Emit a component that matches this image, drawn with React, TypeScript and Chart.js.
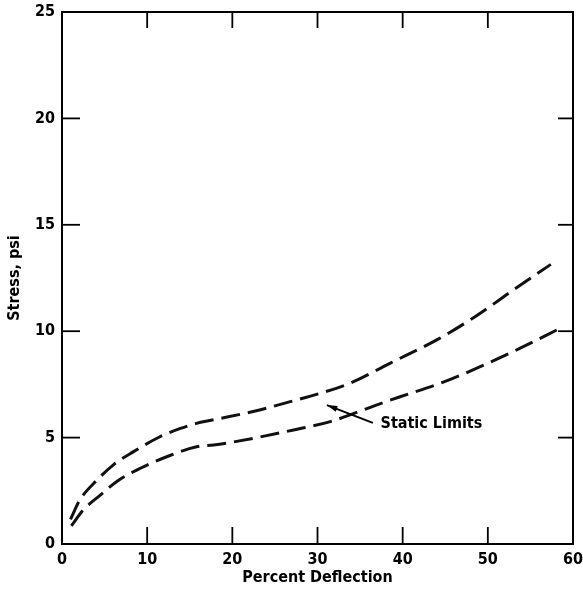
import React, { useEffect, useRef } from "react";
import { Chart, registerables } from "chart.js";

Chart.register(...registerables);

// Upper static limit curve
const upperDeflection = [1.0, 2.1, 4.1, 6.0, 8.4, 11.5, 13.9, 15.8, 18.6, 21.0, 23.2, 26.8, 30.3, 33.8, 38.5, 44.0, 48.5, 53.0, 57.4];
const upperStress = [1.16, 2.07, 3.0, 3.71, 4.34, 5.04, 5.43, 5.67, 5.9, 6.1, 6.3, 6.69, 7.08, 7.55, 8.49, 9.59, 10.68, 11.94, 13.14];

// Lower static limit curve
const lowerDeflection = [1.1, 2.5, 4.5, 6.4, 9.2, 12.3, 15.8, 17.8, 22.5, 27.2, 31.5, 36.9, 39.7, 44.4, 49.1, 53.8, 58.1];
const lowerStress = [0.85, 1.6, 2.3, 2.93, 3.56, 4.1, 4.57, 4.65, 4.97, 5.36, 5.75, 6.53, 6.92, 7.55, 8.33, 9.2, 10.06];

// Axis ticks
const xTicks = [0, 10, 20, 30, 40, 50, 60];
const yTicks = [0, 5, 10, 15, 20, 25];

// Annotation (data coordinates)
const annotationText = "Static Limits";
const arrowTail = { x: 36.5, y: 5.69 };
const arrowTip = { x: 31.1, y: 6.53 };
const labelAnchor = { x: 37.4, y: 5.64 };

const FONT = "'DejaVu Sans Condensed', 'DejaVu Sans', sans-serif";
const WEIGHT = "bold condensed";

const toPoints = (xs: number[], ys: number[]) => xs.map((x, i) => ({ x, y: ys[i] }));

const framePlugin = {
  id: "frameTicks",
  afterDraw(chart: any) {
    const ctx = chart.ctx;
    const xs = chart.scales.x;
    const ys = chart.scales.y;
    const { left, right, top, bottom } = chart.chartArea;
    ctx.save();
    ctx.strokeStyle = "#000";
    ctx.lineWidth = 1.8;
    const line = (x1: number, y1: number, x2: number, y2: number) => {
      ctx.beginPath();
      ctx.moveTo(x1, y1);
      ctx.lineTo(x2, y2);
      ctx.stroke();
    };
    xTicks.forEach((v) => {
      if (v <= xTicks[0] || v >= xTicks[xTicks.length - 1]) return;
      const px = xs.getPixelForValue(v);
      line(px, bottom, px, bottom - 17);
      line(px, top, px, top + 16);
    });
    yTicks.forEach((v) => {
      if (v <= yTicks[0] || v >= yTicks[yTicks.length - 1]) return;
      const py = ys.getPixelForValue(v);
      line(left, py, left + 18, py);
      line(right, py, right - 15, py);
    });

    // arrow
    const tx = xs.getPixelForValue(arrowTail.x);
    const ty = ys.getPixelForValue(arrowTail.y);
    const hx = xs.getPixelForValue(arrowTip.x);
    const hy = ys.getPixelForValue(arrowTip.y);
    ctx.lineWidth = 1.8;
    line(tx, ty, hx, hy);
    const ang = Math.atan2(hy - ty, hx - tx);
    const len = 11;
    const wid = 0.28;
    ctx.fillStyle = "#000";
    ctx.beginPath();
    ctx.moveTo(hx, hy);
    ctx.lineTo(hx - len * Math.cos(ang - wid), hy - len * Math.sin(ang - wid));
    ctx.lineTo(hx - len * Math.cos(ang + wid), hy - len * Math.sin(ang + wid));
    ctx.closePath();
    ctx.fill();

    // label
    ctx.font = `${WEIGHT} 16px ${FONT}`;
    ctx.textAlign = "left";
    ctx.textBaseline = "middle";
    ctx.fillText(annotationText, xs.getPixelForValue(labelAnchor.x), ys.getPixelForValue(labelAnchor.y));
    ctx.restore();
  },
};

export default function App() {
  const ref = useRef<HTMLCanvasElement | null>(null);

  useEffect(() => {
    if (!ref.current) return;
    const lineStyle = {
      borderColor: "#111",
      borderWidth: 3,
      borderDash: [19, 8],
      pointRadius: 0,
      fill: false,
      tension: 0.4,
      cubicInterpolationMode: "monotone" as const,
      borderCapStyle: "butt" as const,
    };
    const noPadX = (s: any, h: number) => {
      s.height = h;
      s.paddingLeft = 0;
      s.paddingRight = 0;
      s.paddingTop = 0;
      s.paddingBottom = 0;
    };
    const noPadY = (s: any, w: number) => {
      s.width = w;
      s.paddingLeft = 0;
      s.paddingRight = 0;
      s.paddingTop = 0;
      s.paddingBottom = 0;
    };
    const chart = new Chart(ref.current, {
      type: "line",
      data: {
        datasets: [
          { label: "Upper", data: toPoints(upperDeflection, upperStress), ...lineStyle },
          { label: "Lower", data: toPoints(lowerDeflection, lowerStress), ...lineStyle },
        ],
      },
      options: {
        animation: false,
        responsive: false,
        maintainAspectRatio: false,
        layout: { padding: 0 },
        plugins: { legend: { display: false }, tooltip: { enabled: false } },
        scales: {
          x: {
            type: "linear",
            position: "bottom",
            min: 0,
            max: 60,
            afterBuildTicks: (s: any) => {
              s.ticks = xTicks.map((v) => ({ value: v }));
            },
            afterFit: (s: any) => noPadX(s, 46),
            grid: { display: false, drawTicks: false },
            border: { display: true, color: "#000", width: 2 },
            ticks: {
              padding: 6,
              color: "#000",
              font: { family: FONT, size: 16, weight: WEIGHT as any },
              maxRotation: 0,
            },
            title: {
              display: true,
              text: "Percent Deflection",
              color: "#000",
              font: { family: FONT, size: 16, weight: WEIGHT as any },
              padding: { top: 0, bottom: 3 },
            },
          },
          x2: {
            type: "linear",
            position: "top",
            min: 0,
            max: 60,
            afterFit: (s: any) => noPadX(s, 12),
            grid: { display: false, drawTicks: false },
            border: { display: true, color: "#000", width: 2 },
            ticks: { display: false },
          },
          y: {
            type: "linear",
            position: "left",
            min: 0,
            max: 25,
            afterBuildTicks: (s: any) => {
              s.ticks = yTicks.map((v) => ({ value: v }));
            },
            afterFit: (s: any) => noPadY(s, 62),
            grid: { display: false, drawTicks: false },
            border: { display: true, color: "#000", width: 2 },
            ticks: {
              padding: 7,
              color: "#000",
              font: { family: FONT, size: 16, weight: WEIGHT as any },
            },
            title: {
              display: true,
              text: "Stress, psi",
              color: "#000",
              font: { family: FONT, size: 16, weight: WEIGHT as any },
              padding: { top: 5, bottom: 0 },
            },
          },
          y2: {
            type: "linear",
            position: "right",
            min: 0,
            max: 25,
            afterFit: (s: any) => noPadY(s, 10),
            grid: { display: false, drawTicks: false },
            border: { display: true, color: "#000", width: 2 },
            ticks: { display: false },
          },
        },
      },
      plugins: [framePlugin],
    });
    return () => chart.destroy();
  }, []);

  return (
    <div style={{ position: "fixed", left: 0, top: 0, width: 583, height: 590, background: "#fff" }}>
      <canvas ref={ref} width={583} height={590} />
    </div>
  );
}
